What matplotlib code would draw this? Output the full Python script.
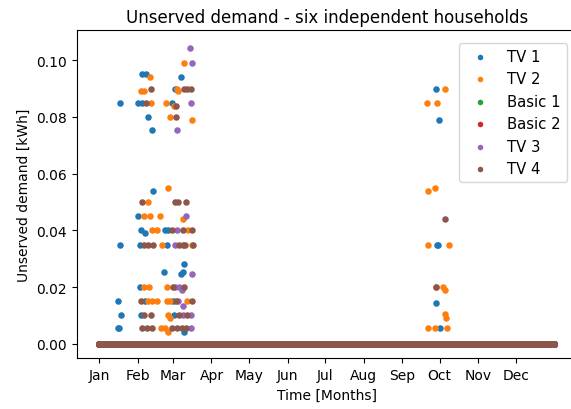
import numpy as np
import matplotlib.pyplot as plt

# hourly time base for one year, expressed in days since Jan 1
hours_in_year = 8760

month_starts = [0, 31, 59, 90, 120, 151, 181, 212, 243, 273, 304, 334]
month_labels = ['Jan', 'Feb', 'Mar', 'Apr', 'May', 'Jun',
                'Jul', 'Aug', 'Sep', 'Oct', 'Nov', 'Dec']

households = ['TV 1', 'TV 2', 'Basic 1', 'Basic 2', 'TV 3', 'TV 4']
colors = ['#1f77b4', '#ff7f0e', '#2ca02c', '#d62728', '#9467bd', '#8c564b']

# hours with unmet demand (day of year, kWh); every other hour is zero
tv1_days = [34.5, 37.7, 65.8, 60.7, 16.7, 31.3, 34.0, 58.6, 39.3, 42.0,
            43.1, 30.8, 33.2, 36.9, 52.7, 55.3, 16.9, 33.0, 54.3, 67.9,
            52.1, 66.9, 65.3, 32.6, 15.2, 36.7, 58.8, 17.1, 33.4, 60.2,
            15.0, 16.0, 68.1,
            270.1, 272.7, 270.6, 271.9, 270.3, 272.9]
tv1_vals = [0.095, 0.095, 0.094, 0.090, 0.085, 0.085, 0.085, 0.085, 0.080, 0.0755,
            0.054, 0.045, 0.040, 0.039, 0.040, 0.040, 0.035, 0.035, 0.035, 0.028,
            0.0255, 0.0255, 0.0245, 0.020, 0.015, 0.015, 0.015, 0.010, 0.010, 0.010,
            0.0055, 0.0055, 0.004,
            0.090, 0.079, 0.035, 0.035, 0.0143, 0.0055]

tv2_days = [67.7, 40.7, 62.3, 33.4, 36.1, 63.1, 41.7, 53.5, 59.7, 57.0,
            74.1, 54.9, 39.3, 35.6, 40.4, 48.9, 67.5, 42.0, 46.5, 71.4,
            50.1, 74.3, 35.9, 40.1, 54.7, 39.1, 42.2, 46.0, 54.1, 56.7,
            70.1, 55.1, 56.9, 49.5, 52.7, 55.3,
            277.3, 263.1, 270.6, 263.3, 269.3, 263.5, 280.7, 270.1, 275.9,
            277.5, 277.7, 277.9, 263.7, 269.5, 278.7]
tv2_vals = [0.099, 0.094, 0.090, 0.089, 0.089, 0.089, 0.085, 0.085, 0.084, 0.080,
            0.079, 0.055, 0.050, 0.045, 0.045, 0.045, 0.044, 0.040, 0.040, 0.040,
            0.035, 0.035, 0.020, 0.020, 0.020, 0.015, 0.015, 0.015, 0.015, 0.015,
            0.015, 0.010, 0.009, 0.0055, 0.0055, 0.004,
            0.090, 0.085, 0.085, 0.054, 0.055, 0.035, 0.035, 0.020, 0.020,
            0.019, 0.0106, 0.009, 0.0055, 0.0055, 0.0055]

basic1_days = []
basic1_vals = []

basic2_days = []
basic2_vals = []

tv3_days = [73.0, 74.1, 73.2, 62.3, 69.3, 62.1, 60.7, 74.3, 60.9, 63.9,
            66.6, 63.4, 66.8, 67.0, 73.6, 73.9]
tv3_vals = [0.1045, 0.099, 0.085, 0.0755, 0.045, 0.040, 0.035, 0.0245, 0.020, 0.020,
            0.019, 0.015, 0.0135, 0.010, 0.010, 0.0055]

tv4_days = [41.7, 67.7, 70.3, 73.6, 37.2, 61.8, 61.3, 34.5, 60.7, 63.4,
            69.3, 58.6, 66.9, 74.6, 36.1, 39.3, 43.3, 64.2, 67.1, 68.7,
            74.8, 58.8, 68.2, 33.4, 61.5, 74.4, 35.9, 41.5, 63.6, 70.1,
            34.3, 38.0, 42.0, 58.4, 62.1, 66.1, 69.9,
            277.3, 270.1]
tv4_vals = [0.090, 0.090, 0.090, 0.090, 0.085, 0.084, 0.080, 0.050, 0.050, 0.050,
            0.050, 0.040, 0.040, 0.040, 0.035, 0.035, 0.035, 0.035, 0.035, 0.035,
            0.035, 0.020, 0.020, 0.015, 0.015, 0.015, 0.010, 0.010, 0.010, 0.010,
            0.0055, 0.0055, 0.0055, 0.0055, 0.0055, 0.0055, 0.0055,
            0.044, 0.020]

events = [(tv1_days, tv1_vals), (tv2_days, tv2_vals), (basic1_days, basic1_vals),
          (basic2_days, basic2_vals), (tv3_days, tv3_vals), (tv4_days, tv4_vals)]

t = np.arange(hours_in_year) / 24.0


def hourly_series(days, vals):
    demand = np.zeros(hours_in_year)
    idx = np.round(np.asarray(days, dtype=float) * 24).astype(int)
    demand[idx] = vals
    return demand


fig = plt.figure(figsize=(5.71, 4.10), dpi=100)
ax = fig.add_axes([0.134, 0.1237, 0.8765, 0.7995])

for name, col, (days, vals) in zip(households, colors, events):
    ax.scatter(t, hourly_series(days, vals), s=22, color=col,
               linewidths=0, label=name)

ax.set_xlim(-18.25, 383.2)
ax.set_ylim(-0.0051, 0.1105)
ax.set_xticks(month_starts)
ax.set_xticklabels(month_labels)
ax.set_yticks([0.0, 0.02, 0.04, 0.06, 0.08, 0.10])

ax.set_title('Unserved demand - six independent households')
ax.set_xlabel('Time [Months]')
ax.set_ylabel('Unserved demand [kWh]')
ax.legend(loc='upper right', markerscale=0.85, fontsize=10.7,
          bbox_to_anchor=(0.994, 0.985))

fig.savefig('out.png', dpi=100)
